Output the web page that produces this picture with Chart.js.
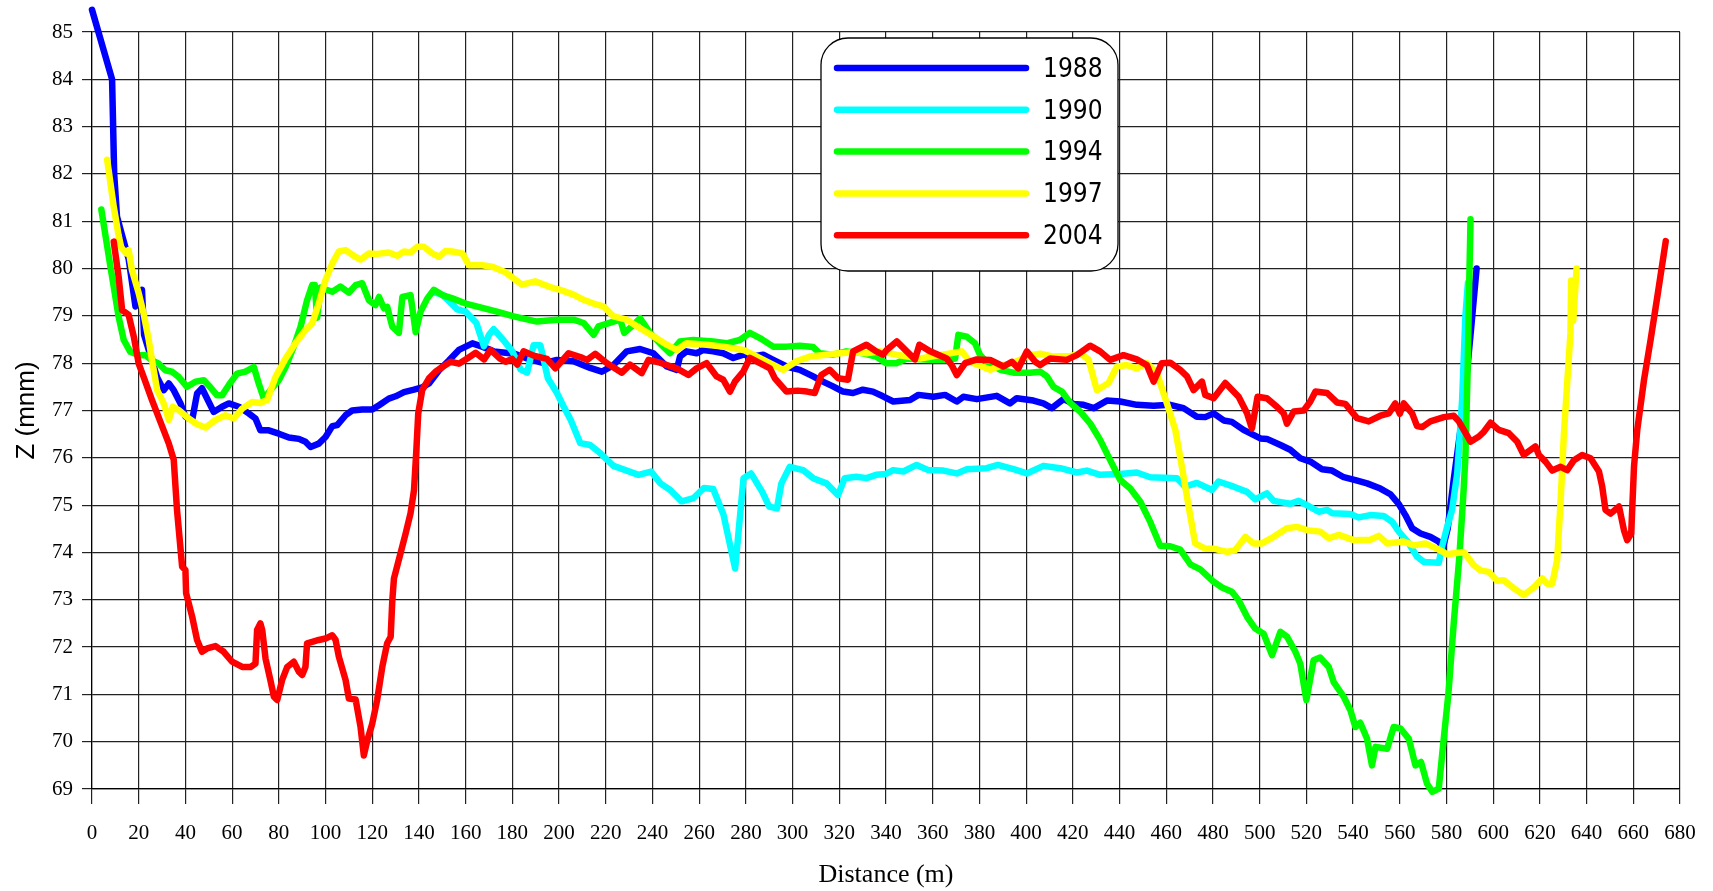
<!DOCTYPE html>
<html>
<head>
<meta charset="utf-8">
<title>Profil Z</title>
<script src="https://cdn.jsdelivr.net/npm/chart.js@4.4.1/dist/chart.umd.min.js"></script>
<style>
  html, body { margin: 0; padding: 0; background: #fff; }
  #wrap { width: 1713px; height: 891px; position: relative; }
</style>
</head>
<body>
<div id="wrap"><canvas id="profileChart"></canvas></div>
<script>
// survey years and their line colours
const years = ['1988', '1990', '1994', '1997', '2004'];
const lineColors = ['#0000ff', '#00ffff', '#00ff00', '#ffff00', '#ff0000'];

// 1988 profile: distance (m) and Z (mnm)
const dist1988 = [0, 8.6, 9.5, 10.7, 13, 15.7, 18.6, 21.4, 22.3, 24.3, 27.9, 30.7, 32.9, 35, 37.9, 40, 42.9, 45, 47.1, 52.1, 55.7, 58.6, 62.9, 67.1, 70, 72.1, 75.7, 80, 84.3, 88.6, 91.4, 93.6, 97.1, 100, 102.9, 105, 108.6, 111.4, 115.7, 120, 122.9, 127.1, 130, 133.6, 137.9, 141.4, 144.3, 148.6, 152.9, 157.1, 162.9, 167.1, 172, 177, 181, 186.3, 190, 193.4, 199.1, 206.2, 213.3, 218.3, 223.3, 229, 234.7, 240.4, 246.1, 250.4, 251.8, 254.6, 258.9, 261.8, 266, 270.3, 274.6, 278.9, 283.1, 287.4, 291.7, 297.4, 303.1, 308.8, 313, 317.3, 321.6, 325.9, 330.1, 334.4, 338.7, 343.1, 350.3, 353.9, 360.3, 365.3, 370.3, 373.1, 378.9, 387.4, 393.1, 396, 403.1, 407.4, 411, 416, 420.3, 424.6, 429, 434.6, 440.3, 447.4, 454.6, 461.7, 467.4, 473.1, 476.7, 480.3, 484.6, 488.1, 493.1, 500.3, 503.1, 508.9, 513.1, 517.4, 521.7, 526.7, 531, 536, 541, 546, 551.7, 556, 559.6, 562.4, 565.3, 568.9, 573.1, 576.7, 578.5, 580.5, 583, 587.4, 590.3, 592.9];
const z1988 = [85.47, 84.0, 82.0, 81.1, 80.68, 80.2, 79.2, 79.55, 78.6, 78.28, 77.7, 77.43, 77.57, 77.43, 77.15, 76.87, 76.8, 77.36, 77.47, 76.97, 77.08, 77.15, 77.08, 76.94, 76.83, 76.58, 76.58, 76.51, 76.43, 76.4, 76.34, 76.23, 76.3, 76.44, 76.67, 76.69, 76.9, 77.0, 77.02, 77.02, 77.11, 77.25, 77.3, 77.39, 77.44, 77.49, 77.57, 77.85, 78.06, 78.28, 78.42, 78.35, 78.25, 78.22, 78.2, 78.1, 78.05, 78.0, 78.07, 78.04, 77.9, 77.82, 77.96, 78.25, 78.3, 78.21, 77.93, 77.86, 78.14, 78.25, 78.21, 78.28, 78.25, 78.21, 78.11, 78.18, 78.14, 78.18, 78.07, 77.93, 77.86, 77.72, 77.61, 77.51, 77.4, 77.37, 77.44, 77.4, 77.3, 77.19, 77.22, 77.33, 77.29, 77.33, 77.19, 77.29, 77.24, 77.31, 77.15, 77.26, 77.21, 77.15, 77.05, 77.24, 77.14, 77.12, 77.05, 77.21, 77.19, 77.12, 77.1, 77.12, 77.05, 76.87, 76.86, 76.94, 76.79, 76.76, 76.59, 76.41, 76.4, 76.27, 76.17, 75.99, 75.92, 75.76, 75.73, 75.59, 75.53, 75.46, 75.35, 75.23, 75.02, 74.79, 74.51, 74.4, 74.33, 74.23, 74.1, 74.5, 75.5, 77.1, 78.6, 80.0];

// 1990 profile
const dist1990 = [146, 150, 153.5, 156.3, 160, 164.6, 167.8, 170, 172, 176.3, 180, 183.5, 186.3, 189.1, 192, 195.2, 199.1, 202, 205, 209.1, 213.3, 217.6, 223.3, 229, 234, 239.4, 243.4, 247.6, 252.5, 257.6, 262, 266, 270.4, 275.4, 279, 282.2, 287, 290, 293.3, 295.2, 298.8, 304.5, 308.8, 314.5, 319.5, 322.3, 327.3, 331.6, 335.8, 340, 343.1, 347.4, 353.1, 358.1, 364.6, 370.3, 374.6, 383.1, 387.9, 394.6, 400.3, 407.4, 414.6, 421.7, 426, 431.7, 440.3, 447.4, 453.1, 464.6, 468.1, 473.1, 479.6, 482.4, 488.9, 494.6, 498.1, 503.1, 506, 513.1, 516.7, 521, 525.3, 528.9, 531, 538.9, 542.4, 547.4, 553.1, 556.7, 559.6, 563.9, 567.4, 570.3, 576.7, 578.1, 580.3, 582.4, 584.6, 586.7, 588.1, 589.2];
const z1990 = [79.5, 79.45, 79.28, 79.14, 79.09, 78.85, 78.36, 78.6, 78.72, 78.48, 78.25, 77.87, 77.8, 78.38, 78.38, 77.68, 77.37, 77.08, 76.8, 76.31, 76.27, 76.1, 75.83, 75.73, 75.64, 75.71, 75.46, 75.32, 75.08, 75.15, 75.36, 75.34, 74.8, 73.66, 75.57, 75.67, 75.28, 74.97, 74.93, 75.46, 75.81, 75.74, 75.57, 75.46, 75.21, 75.57, 75.6, 75.57, 75.64, 75.66, 75.74, 75.71, 75.85, 75.74, 75.73, 75.67, 75.76, 75.78, 75.85, 75.76, 75.67, 75.83, 75.78, 75.69, 75.73, 75.64, 75.66, 75.69, 75.59, 75.57, 75.39, 75.47, 75.32, 75.5, 75.39, 75.28, 75.12, 75.25, 75.09, 75.03, 75.09, 74.98, 74.86, 74.9, 74.83, 74.81, 74.74, 74.79, 74.77, 74.65, 74.44, 74.19, 73.91, 73.8, 73.78, 74.12, 74.54, 74.9, 75.67, 77.22, 78.99, 79.7];

// 1994 profile
const dist1994 = [4, 7.9, 11.4, 13.6, 16.4, 20, 22.9, 25.7, 28.6, 31.4, 34.3, 37.1, 40.7, 44.3, 47.9, 50.7, 53.6, 55.7, 58.6, 62.1, 65.7, 69.3, 71.4, 73.6, 76.4, 80, 82.9, 86.4, 89.3, 92.1, 94.3, 95.4, 96.4, 97.9, 98.6, 102.9, 106.4, 110, 112.9, 115.7, 118.6, 121.4, 122.9, 125, 126.4, 128.6, 131.4, 132.9, 136.4, 138.6, 140.7, 143.6, 146.4, 150, 154.3, 160, 166.3, 173.4, 180.6, 190.5, 199.1, 206.2, 210.5, 214.8, 216.9, 223.3, 226.2, 227.9, 231.9, 234.7, 239, 243.2, 247.5, 251.8, 257.5, 266, 271.7, 277.4, 281.7, 286, 291.7, 297.4, 303.1, 308.8, 311.6, 317.3, 323, 330.1, 335.8, 340.1, 344.4, 348.9, 358.9, 366, 369.6, 371, 374.6, 378.1, 380.3, 383.1, 388.9, 394.6, 401.7, 406, 408.9, 411.7, 415.3, 419.1, 423.1, 427.4, 431.7, 436, 440.3, 444.6, 448.9, 453.1, 457.4, 461.7, 466, 470.3, 474.6, 480.3, 483.9, 488.1, 491, 494.6, 498.1, 501.7, 505.3, 508.9, 511.7, 515.3, 517.4, 520, 523.1, 525.9, 529.6, 531.7, 536, 538.9, 541, 543.1, 546, 548.1, 549.6, 554.6, 557.4, 560.3, 563.9, 566.7, 569.1, 571.7, 573.9, 576.7, 578.5, 580.8, 583.1, 585.5, 587.2, 588.1, 589.1, 589.6, 590.3];
const z1994 = [81.25, 80.04, 78.98, 78.49, 78.24, 78.17, 78.17, 78.06, 77.99, 77.85, 77.82, 77.71, 77.5, 77.61, 77.64, 77.49, 77.32, 77.32, 77.54, 77.78, 77.82, 77.92, 77.57, 77.25, 77.43, 77.64, 77.92, 78.35, 78.77, 79.33, 79.65, 79.65, 78.96, 79.6, 79.58, 79.51, 79.62, 79.49, 79.65, 79.69, 79.33, 79.23, 79.4, 79.16, 79.19, 78.77, 78.64, 79.4, 79.44, 78.66, 79.09, 79.37, 79.55, 79.44, 79.37, 79.26, 79.18, 79.09, 78.99, 78.88, 78.92, 78.92, 78.85, 78.6, 78.78, 78.88, 78.92, 78.64, 78.81, 78.95, 78.64, 78.42, 78.21, 78.46, 78.49, 78.46, 78.42, 78.49, 78.64, 78.53, 78.35, 78.35, 78.37, 78.34, 78.21, 78.18, 78.25, 78.21, 78.14, 78.0, 78.0, 78.1, 78.07, 78.07, 78.1, 78.6, 78.56, 78.42, 78.17, 78.03, 77.86, 77.8, 77.8, 77.82, 77.72, 77.5, 77.4, 77.15, 76.98, 76.73, 76.38, 75.95, 75.53, 75.35, 75.07, 74.65, 74.14, 74.13, 74.06, 73.75, 73.64, 73.38, 73.26, 73.17, 72.99, 72.64, 72.39, 72.28, 71.83, 72.32, 72.22, 71.9, 71.65, 70.88, 71.72, 71.78, 71.58, 71.26, 70.95, 70.66, 70.31, 70.4, 70.06, 69.5, 69.89, 69.85, 70.31, 70.28, 70.06, 69.5, 69.57, 69.11, 68.94, 69.01, 69.9, 71.0, 72.5, 73.9, 75.2, 76.0, 77.93, 79.34, 81.04];

// 1997 profile
const dist1997 = [6.5, 9.3, 11.4, 12.5, 14.6, 15.7, 17.1, 20, 22.1, 24.3, 25.7, 27.9, 30.7, 32.9, 34.6, 37.1, 41.4, 45, 48.6, 52.9, 57.1, 60.7, 64.3, 68.6, 72.1, 75, 78.6, 82.9, 87.1, 91.4, 94.3, 97.1, 100, 102.9, 105.7, 108.6, 112.1, 115, 118.6, 122.1, 127.1, 130.7, 133.6, 136.4, 139.3, 142.1, 145.7, 148.6, 151.4, 154.3, 158.6, 161.4, 167.1, 171.4, 177.1, 184.1, 189.8, 196.2, 200.5, 206.2, 210.5, 214.8, 219, 223.3, 229, 234.7, 240.4, 246.1, 250.4, 254.6, 263.2, 270.3, 278.9, 283.1, 288.8, 296, 301.7, 307.4, 314.5, 320.2, 325.9, 331.6, 337.3, 344.4, 354.6, 363.1, 372.4, 376, 384.6, 388.9, 394.6, 401.7, 406, 411.7, 419.1, 423.1, 426.7, 430.3, 435.3, 438.9, 443.1, 447.4, 451.7, 456, 460.3, 463.9, 466.7, 469.6, 472.4, 476.7, 480.3, 486, 489.6, 493.9, 497.4, 501, 506, 511.7, 516, 520.3, 526, 529.6, 533.9, 540.3, 547.4, 551, 554.6, 561.7, 566, 571, 576, 580.3, 587.4, 591.7, 594.6, 598.1, 601.7, 604.6, 608.9, 613.1, 617.4, 621, 623.1, 625.3, 627.4, 628.9, 630.3, 631.7, 633.1, 633.4, 634.3, 635.7];
const z1997 = [82.3, 81.31, 80.7, 80.45, 80.32, 80.39, 79.97, 79.48, 79.05, 78.49, 78.06, 77.43, 77.15, 76.8, 77.08, 77.01, 76.83, 76.71, 76.64, 76.8, 76.9, 76.83, 77.04, 77.18, 77.16, 77.22, 77.71, 78.1, 78.42, 78.7, 78.84, 79.26, 79.76, 80.11, 80.36, 80.39, 80.27, 80.19, 80.32, 80.31, 80.34, 80.27, 80.36, 80.34, 80.46, 80.46, 80.32, 80.25, 80.37, 80.36, 80.32, 80.07, 80.07, 80.04, 79.92, 79.66, 79.73, 79.61, 79.55, 79.45, 79.34, 79.26, 79.2, 78.99, 78.92, 78.74, 78.57, 78.39, 78.28, 78.42, 78.39, 78.35, 78.28, 78.18, 78.04, 77.86, 78.04, 78.14, 78.18, 78.21, 78.23, 78.21, 78.25, 78.18, 78.1, 78.17, 78.25, 78.03, 77.86, 77.94, 78.01, 78.17, 78.2, 78.14, 78.15, 78.21, 78.08, 77.43, 77.58, 77.93, 77.96, 77.89, 78.0, 77.79, 77.15, 76.59, 75.81, 74.97, 74.19, 74.08, 74.08, 74.01, 74.05, 74.33, 74.19, 74.19, 74.33, 74.51, 74.54, 74.47, 74.44, 74.3, 74.37, 74.26, 74.27, 74.35, 74.19, 74.23, 74.15, 74.19, 74.08, 73.96, 74.01, 73.73, 73.62, 73.59, 73.4, 73.41, 73.24, 73.1, 73.26, 73.45, 73.34, 73.34, 73.84, 75.11, 76.52, 77.58, 78.64, 79.75, 78.9, 80.0];

// 2004 profile
const dist2004 = [9.3, 11.4, 12.9, 15.7, 17.9, 20, 22.1, 25.7, 29.3, 32.9, 35, 36.4, 38.6, 40, 40.3, 42.9, 45, 47.1, 49.3, 52.9, 56.4, 60, 64.3, 67.9, 70, 70.7, 72.1, 72.9, 74.3, 76.4, 77.9, 79.3, 81.4, 83.6, 86.4, 88.6, 90, 91.4, 92.1, 94.3, 97.1, 100, 102.9, 104.3, 105.7, 108.6, 110, 112.9, 115, 116.4, 117.9, 120, 122.1, 124.3, 126.4, 127.9, 128.6, 129.3, 132.1, 134.3, 136.4, 137.9, 138.9, 139.7, 141.4, 144.3, 147.1, 150, 153.6, 157.1, 160.7, 164.3, 167.9, 170.7, 174.6, 177.1, 179.9, 182.1, 184.8, 189.1, 194.8, 198.4, 204.1, 209.1, 212, 215.5, 220.5, 226.9, 230.4, 235.4, 238.3, 243.2, 250.4, 255.4, 258.9, 263.2, 267.5, 270.3, 273.2, 275.3, 278.9, 281.7, 286, 290.3, 292.4, 297.4, 302.2, 306.2, 309.5, 312.3, 315.9, 319.5, 323.7, 325.9, 331.6, 335.8, 338.7, 340.3, 344.6, 348.9, 352.4, 354.3, 358.9, 366, 368.1, 370.3, 373.9, 378.9, 384.6, 390.3, 393.9, 396.7, 400.3, 403.9, 406, 410.3, 417.4, 421.7, 427.4, 431.7, 436, 441.7, 447.4, 451.7, 454.6, 458.1, 461.7, 466, 468.9, 471.7, 475.3, 476.7, 480.3, 485.3, 491, 494.6, 496.7, 499.1, 503.1, 507.4, 510.3, 511.7, 514.6, 518.9, 521.7, 523.9, 528.9, 533.1, 536.7, 541.7, 546.7, 551.7, 555.3, 558.1, 560, 561.7, 565.3, 567.4, 569.6, 573.1, 578.9, 583.1, 585.3, 590.3, 593.9, 596, 598.9, 602.4, 606.7, 610.3, 613.1, 618.1, 619.6, 622.4, 625.3, 628.9, 631.7, 634.6, 638.1, 641.7, 645.3, 646.7, 648.1, 650.3, 653.9, 656, 657.4, 659.1, 660.3, 661.7, 664.6, 667.4, 670.3, 673.9];
const z2004 = [80.57, 79.83, 79.12, 79.02, 78.56, 77.99, 77.71, 77.22, 76.76, 76.3, 75.96, 74.9, 73.7, 73.63, 73.14, 72.64, 72.15, 71.9, 71.97, 72.02, 71.9, 71.69, 71.58, 71.58, 71.65, 72.36, 72.5, 72.36, 71.76, 71.3, 70.95, 70.88, 71.3, 71.58, 71.69, 71.48, 71.41, 71.58, 72.08, 72.11, 72.15, 72.18, 72.25, 72.15, 71.8, 71.3, 70.91, 70.89, 70.31, 69.71, 70.03, 70.38, 70.88, 71.58, 72.08, 72.22, 72.99, 73.45, 73.98, 74.4, 74.83, 75.32, 76.17, 76.94, 77.43, 77.68, 77.82, 77.92, 78.03, 77.99, 78.1, 78.22, 78.08, 78.28, 78.1, 78.03, 78.09, 77.97, 78.25, 78.16, 78.09, 77.89, 78.21, 78.13, 78.07, 78.2, 78.0, 77.8, 77.97, 77.79, 78.07, 78.01, 77.89, 77.75, 77.89, 78.0, 77.72, 77.65, 77.4, 77.61, 77.82, 78.11, 78.0, 77.89, 77.68, 77.4, 77.42, 77.4, 77.37, 77.75, 77.86, 77.68, 77.65, 78.25, 78.39, 78.25, 78.18, 78.28, 78.46, 78.25, 78.08, 78.39, 78.25, 78.1, 77.96, 77.75, 78.0, 78.08, 78.07, 77.93, 78.03, 77.89, 78.25, 78.03, 77.96, 78.1, 78.07, 78.17, 78.37, 78.25, 78.07, 78.17, 78.08, 77.96, 77.61, 78.0, 78.01, 77.86, 77.72, 77.43, 77.61, 77.33, 77.26, 77.58, 77.29, 76.94, 76.62, 77.29, 77.26, 77.08, 76.94, 76.72, 76.98, 77.0, 77.19, 77.4, 77.37, 77.17, 77.14, 76.84, 76.77, 76.89, 76.94, 77.15, 76.93, 77.15, 76.94, 76.67, 76.65, 76.77, 76.86, 76.89, 76.77, 76.34, 76.45, 76.55, 76.74, 76.59, 76.52, 76.34, 76.06, 76.24, 76.06, 75.92, 75.73, 75.81, 75.74, 75.95, 76.06, 75.99, 75.71, 75.39, 74.9, 74.82, 74.97, 74.47, 74.26, 74.4, 75.81, 76.59, 77.65, 78.49, 79.41, 80.58];

// axis settings
const xMin = 0, xMax = 680, xStep = 20;
const yMin = 69, yMax = 85, yStep = 1;
const xTitle = 'Distance (m)';
const yTitle = 'Z (mnm)';

function toPoints(xs, ys) {
    return xs.map((x, i) => ({ x: x, y: ys[i] }));
}

const series = [
    toPoints(dist1988, z1988),
    toPoints(dist1990, z1990),
    toPoints(dist1994, z1994),
    toPoints(dist1997, z1997),
    toPoints(dist2004, z2004)
];

// rounded legend box in the upper middle of the plot
const boxLegend = {
    id: 'boxLegend',
    afterDraw(chart) {
        const ctx = chart.ctx;
        const bx = 821, by = 38, bw = 297, bh = 233;
        ctx.save();
        ctx.beginPath();
        ctx.roundRect(bx, by, bw, bh, 27);
        ctx.fillStyle = '#ffffff';
        ctx.fill();
        ctx.lineWidth = 1.3;
        ctx.strokeStyle = '#000000';
        ctx.stroke();

        ctx.font = '26px "DejaVu Sans Condensed", "Liberation Sans", Arial, sans-serif';
        ctx.textBaseline = 'middle';
        ctx.textAlign = 'left';
        chart.data.datasets.forEach((ds, i) => {
            const ly = by + 30 + i * 41.8;
            ctx.beginPath();
            ctx.moveTo(bx + 16, ly);
            ctx.lineTo(bx + 205, ly);
            ctx.lineWidth = 6.5;
            ctx.lineCap = 'round';
            ctx.strokeStyle = ds.borderColor;
            ctx.stroke();
            ctx.fillStyle = '#000000';
            ctx.fillText(ds.label, bx + 222, ly + 2);
        });
        ctx.restore();
    }
};

const datasets = years.map((yr, i) => ({
    label: yr,
    data: series[i],
    borderColor: lineColors[i],
    backgroundColor: lineColors[i],
    borderWidth: 6.5,
    pointRadius: 0,
    tension: 0,
    borderJoinStyle: 'round',
    borderCapStyle: 'round',
    clip: false,
    order: years.length - i   // later surveys drawn on top
}));

const serif = '"Liberation Serif", "Times New Roman", serif';

new Chart(document.getElementById('profileChart'), {
    type: 'line',
    data: { datasets: datasets },
    plugins: [boxLegend],
    options: {
        responsive: true,
        maintainAspectRatio: false,
        animation: false,
        layout: { padding: { top: 32, right: 33, left: 0, bottom: 0 } },
        plugins: {
            legend: { display: false },
            tooltip: { enabled: false }
        },
        scales: {
            x: {
                type: 'linear',
                min: xMin,
                max: xMax,
                afterFit: (scale) => { scale.height = 102; },
                ticks: {
                    stepSize: xStep,
                    autoSkip: false,
                    maxRotation: 0,
                    color: '#000',
                    padding: 17,
                    font: { family: serif, size: 21 }
                },
                grid: { color: '#222', lineWidth: 1.2, tickLength: 15 },
                border: { color: '#000', width: 1.2 },
                title: {
                    display: true,
                    text: xTitle,
                    color: '#000',
                    font: { family: serif, size: 26 },
                    padding: { top: 0, bottom: 0 }
                }
            },
            y: {
                min: yMin,
                max: yMax,
                afterFit: (scale) => { scale.width = 92; },
                ticks: {
                    stepSize: yStep,
                    color: '#000',
                    padding: 9,
                    font: { family: serif, size: 21 }
                },
                grid: { color: '#222', lineWidth: 1.2, tickLength: 10 },
                border: { color: '#000', width: 1.2 },
                title: {
                    display: true,
                    text: yTitle,
                    color: '#000',
                    font: { family: '"Liberation Sans", Arial, sans-serif', size: 26 },
                    padding: { top: 11, bottom: 0 }
                }
            }
        }
    }
});
</script>
</body>
</html>
